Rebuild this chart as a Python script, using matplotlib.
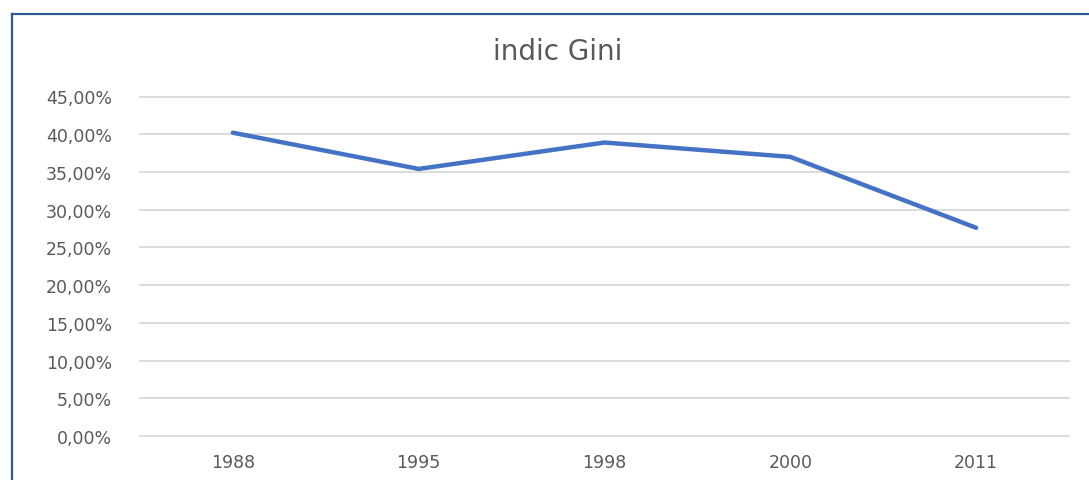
import matplotlib
matplotlib.use("Agg")
import matplotlib.pyplot as plt
from matplotlib.lines import Line2D
from matplotlib.ticker import FuncFormatter

categories = ["1988", "1995", "1998", "2000", "2011"]
gini = [40.2, 35.4, 38.9, 37.0, 27.6]
title = "indic Gini"

plt.rcParams['font.family'] = ['DejaVu Sans']

W, H = 1089, 481
fig = plt.figure(figsize=(W / 100, H / 100), dpi=100)
fig.patch.set_facecolor("white")

ax = fig.add_axes([140 / W, 1 - 437 / H, (1069 - 140) / W, (437 - 97.5) / H])
x = list(range(len(categories)))
ax.plot(x, gini, color="#4472C4", lw=3.2, solid_capstyle="round", solid_joinstyle="round", zorder=3)

ax.set_xlim(-0.5, len(categories) - 0.5)
ax.set_ylim(0, 45)
ax.set_yticks([i * 5 for i in range(10)])
ax.yaxis.set_major_formatter(FuncFormatter(lambda v, p: f"{v:.2f}".replace(".", ",") + "%"))
ax.set_xticks(x)
ax.set_xticklabels(categories)

ax.grid(axis="y", color="#D9D9D9", lw=1.3, zorder=0)
for gl in ax.get_ygridlines():
    gl.set_clip_on(False)
for s in ax.spines.values():
    s.set_visible(False)
ax.tick_params(axis="both", length=0, labelsize=12.5, labelcolor="#595959")
ax.tick_params(axis="y", pad=20)
ax.tick_params(axis="x", pad=12)

fig.text(558 / W, 1 - 52 / H, title, ha="center", va="center", fontsize=20, color="#595959")

# chart frame (top and left edges)
fig.add_artist(Line2D([12 / W, 1.0], [1 - 15 / H, 1 - 15 / H], transform=fig.transFigure, color="#2F5597", lw=1.6))
fig.add_artist(Line2D([12 / W, 12 / W], [0, 1 - 15 / H], transform=fig.transFigure, color="#2F5597", lw=1.6))

fig.savefig("out.png", dpi=100)
